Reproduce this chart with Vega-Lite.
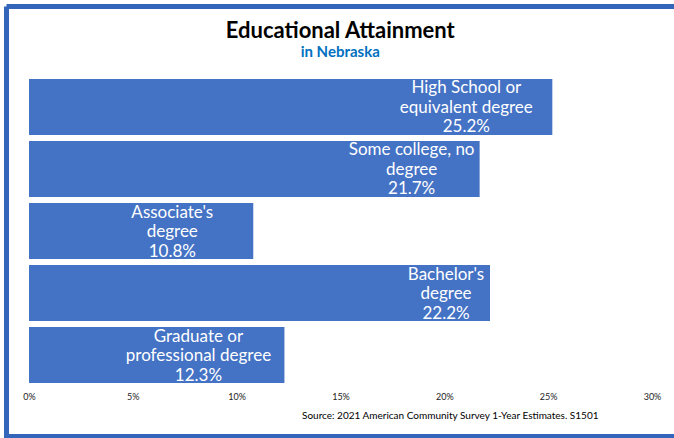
{
  "$schema": "https://vega.github.io/schema/vega-lite/v6.json",
  "autosize": "none",
  "width": 667.5,
  "height": 430,
  "padding": {"left": 6.5, "top": 6.5, "right": 0, "bottom": 1.5},
  "background": "white",
  "config": {
    "view": {"stroke": "#3366BB", "strokeWidth": 5, "strokeDash": [667.5, 430, 1097.5, 0], "fill": "white"},
    "font": "Lato"
  },
  "title": {
    "text": "Educational Attainment",
    "subtitle": "in Nebraska",
    "anchor": "middle",
    "frame": "group",
    "offset": -54,
    "font": "Lato",
    "fontSize": 22,
    "fontWeight": "bold",
    "color": "#000000",
    "subtitleFont": "Lato",
    "subtitleFontSize": 15,
    "subtitleFontWeight": "bold",
    "subtitleColor": "#0070C0",
    "subtitlePadding": 2
  },
  "data": {
    "values": [
      {"category": "High School or equivalent degree", "share": 0.252, "label": "High School or\nequivalent degree\n25.2%"},
      {"category": "Some college, no degree", "share": 0.217, "label": "Some college, no\ndegree\n21.7%"},
      {"category": "Associate's degree", "share": 0.108, "label": "Associate's\ndegree\n10.8%"},
      {"category": "Bachelor's degree", "share": 0.222, "label": "Bachelor's\ndegree\n22.2%"},
      {"category": "Graduate or professional degree", "share": 0.123, "label": "Graduate or\nprofessional degree\n12.3%"}
    ]
  },
  "encoding": {
    "y": {
      "field": "category",
      "type": "nominal",
      "sort": null,
      "axis": null,
      "scale": {"range": [69.5, 379.5], "paddingInner": 0.097, "paddingOuter": 0.048}
    },
    "x": {
      "field": "share",
      "type": "quantitative",
      "scale": {"domain": [0, 0.3], "range": [22.5, 645.5], "nice": false},
      "axis": {
        "format": ".0%",
        "values": [0, 0.05, 0.1, 0.15, 0.2, 0.25, 0.3],
        "domain": false,
        "ticks": false,
        "grid": false,
        "labelFlush": false,
        "labelFont": "Lato",
        "labelFontSize": 9,
        "labelColor": "#222222",
        "labelPadding": 6,
        "offset": -50.5,
        "title": "Source: 2021 American Community Survey 1-Year Estimates. S1501",
        "titleX": 591.5,
        "titleY": 29,
        "titleAlign": "right",
        "titleAnchor": null,
        "titleBaseline": "middle",
        "titleFont": "Lato",
        "titleFontSize": 10,
        "titleFontWeight": "normal",
        "titleColor": "#000000"
      }
    }
  },
  "layer": [
    {"mark": {"type": "bar", "color": "#4472C4"}},
    {
      "mark": {
        "type": "text",
        "align": "center",
        "baseline": "middle",
        "color": "white",
        "font": "Lato",
        "fontSize": 17,
        "lineBreak": "\n",
        "lineHeight": 19.5,
        "dy": -18.5,
        "dx": {"expr": "datum.category == \"Bachelor's degree\" ? -44 : datum.category == \"Some college, no degree\" ? -68 : datum.category == \"Associate's degree\" ? -81 : -86"}
      },
      "encoding": {"text": {"field": "label", "type": "nominal"}}
    }
  ]
}
